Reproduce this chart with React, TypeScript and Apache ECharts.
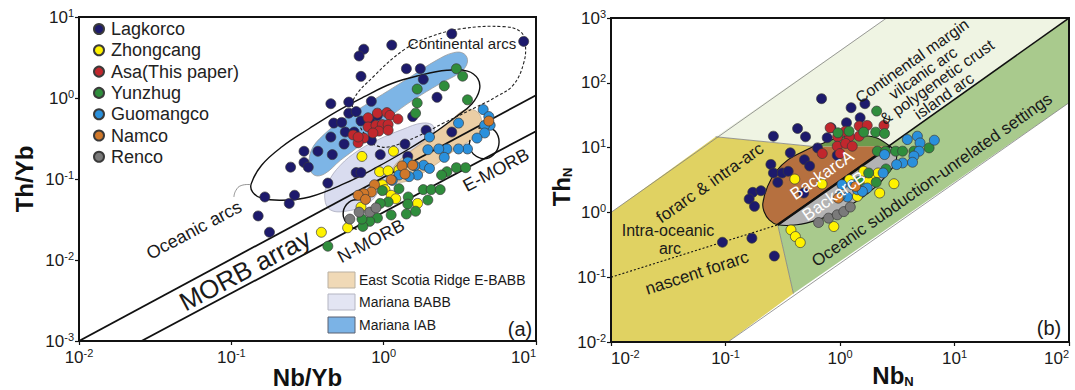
import React, { useEffect, useRef } from "react";
import * as echarts from "echarts";

const FONT = 'Arial, "Liberation Sans", Helvetica, sans-serif';

// ---------------- Panel (a): Nb/Yb vs Th/Yb ----------------
const lagkorcoA = [[2.8,6.2],[8.3,5.0],[1.13,4.5],[0.74,4.0],[0.69,3.3],[0.71,1.85],[1.41,2.3],[1.74,2.3],[1.82,1.7],[2.24,1.02],[0.45,0.85],[0.59,0.89],[0.83,0.91],[1.55,0.59],[0.47,0.49],[0.53,0.5],[0.59,0.65],[0.66,0.68],[0.71,0.52],[0.81,0.52],[0.91,0.61],[0.56,0.38],[0.64,0.38],[0.45,0.33],[0.55,0.27],[0.83,0.3],[1.38,0.27],[1.9,0.4],[2.8,0.38],[0.3,0.22],[0.37,0.22],[0.46,0.2],[0.95,0.2],[1.44,0.19],[0.3,0.16],[0.32,0.14],[0.245,0.14],[0.66,0.12],[0.71,0.12],[0.43,0.089],[0.26,0.063],[0.166,0.06],[0.24,0.05],[0.15,0.035],[0.178,0.022]];
const zhongcangA = [[0.72,0.19],[1.16,0.22],[0.94,0.123],[1.07,0.126],[1.26,0.129],[0.98,0.085],[1.02,0.074],[1.12,0.063],[1.2,0.057],[0.71,0.045],[1.67,0.05],[0.58,0.025],[0.39,0.022]];
const asaA = [[0.79,0.57],[0.91,0.65],[1.05,0.66],[1.1,0.61],[1.24,0.55],[0.79,0.44],[0.89,0.46],[0.98,0.47],[1.07,0.47],[0.93,0.39],[1.07,0.4],[0.63,0.35],[0.74,0.32],[0.85,0.37],[0.68,0.28],[0.68,0.33]];
const yunzhugA = [[3.0,2.3],[3.3,1.86],[2.5,1.41],[1.66,1.29],[3.55,0.95],[1.66,0.87],[1.62,0.65],[3.0,0.138],[3.45,0.138],[2.6,0.123],[2.4,0.112],[1.82,0.074],[2.05,0.074],[2.35,0.074],[1.95,0.055],[1.45,0.06],[1.44,0.049],[1.26,0.076],[1.07,0.052],[0.95,0.05],[1.12,0.036],[1.41,0.037],[1.62,0.04],[0.91,0.033],[0.81,0.03],[0.73,0.026],[0.72,0.032],[0.43,0.0148],[0.98,0.072]];
const guomangcoA = [[4.5,0.72],[4.9,0.59],[5.0,0.46],[4.6,0.46],[3.1,0.49],[4.6,0.37],[4.1,0.32],[3.55,0.235],[3.1,0.235],[2.6,0.235],[2.3,0.235],[2.0,0.33],[1.95,0.23],[2.5,0.185],[1.44,0.162],[1.83,0.148],[1.6,0.145],[2.0,0.135],[1.67,0.112],[1.47,0.107],[1.26,0.112],[1.14,0.096]];
const namcoA = [[4.9,0.52],[1.32,0.145],[1.38,0.115],[1.12,0.098],[0.87,0.085],[0.83,0.069],[0.74,0.066],[0.68,0.063],[0.76,0.056],[1.55,0.148]];
const rencoA = [[0.6,0.032],[0.69,0.039],[0.81,0.039],[0.89,0.044]];

// region outlines, panel (a)
const morbUpper = [[0.01,0.001],[10,1.08]];
const morbLower = [[0.0257,0.001],[10,0.389]];
const oceanicArcs = [[0.135,0.087],[0.158,0.148],[0.215,0.25],[0.325,0.42],[0.49,0.68],[0.74,1.03],[1.12,1.5],[1.72,1.9],[2.6,2.2],[3.55,2.15],[4.15,1.73],[4.25,1.25],[3.8,0.85],[3.0,0.59],[2.1,0.36],[1.38,0.22],[0.91,0.141],[0.55,0.0875],[0.326,0.06],[0.215,0.0546],[0.158,0.058],[0.138,0.069]];
const oceanicLeader = [[0.135,0.085],[0.116,0.083],[0.107,0.072],[0.104,0.06]];
const continentalArcs = [[0.63,0.94],[0.855,1.83],[1.35,3.9],[2.02,5.7],[3.3,7.2],[6.1,7.6],[7.9,6.6],[8.5,4.7],[8.3,2.7],[7.1,1.45],[5.5,1.04],[4.1,0.78],[2.47,0.49],[1.65,0.333],[1.1,0.25],[0.9,0.257],[0.81,0.3],[0.7,0.44],[0.645,0.645]];
const marianaIAB = [[0.335,0.226],[0.4,0.346],[0.55,0.556],[0.75,0.81],[1.08,1.24],[1.55,1.9],[2.22,2.92],[2.88,3.63],[3.37,3.52],[3.55,2.78],[3.2,2.09],[2.34,1.5],[1.55,0.935],[1.13,0.61],[0.87,0.4],[0.675,0.248],[0.52,0.17],[0.41,0.116],[0.352,0.111],[0.326,0.141]];
const marianaBABB = [[0.41,0.06],[0.434,0.092],[0.52,0.148],[0.675,0.222],[0.92,0.306],[1.32,0.407],[1.81,0.491],[2.13,0.447],[2.06,0.33],[1.55,0.226],[1.19,0.141],[0.97,0.08],[0.79,0.0496],[0.577,0.0403],[0.445,0.0418]];
const eastScotiaEBABB = [[1.16,0.141],[1.38,0.195],[2.0,0.33],[2.75,0.525],[3.4,0.71],[4.1,0.68],[4.4,0.5],[4.1,0.35],[3.0,0.235],[2.2,0.151],[1.62,0.106],[1.26,0.091],[1.12,0.112]];
const nMorbArc = [[0.794,0.054],[0.633,0.055],[0.558,0.0455],[0.544,0.0343],[0.586,0.0271],[0.665,0.0239]];
const eMorbArc = [[4.19,0.423],[4.87,0.435],[5.53,0.366],[5.7,0.263],[5.25,0.198],[4.52,0.178],[3.88,0.204],[3.66,0.251],[3.69,0.303]];

// ---------------- Panel (b): Nb_N vs Th_N ----------------
const lagkorcoB = [[0.69,56.9],[1.25,41.3],[1.65,47.6],[1.5,28.9],[1.14,24.2],[0.426,19.7],[0.5,14.7],[0.262,15.0],[0.836,20.2],[0.773,14.2],[0.637,9.9],[0.946,7.6],[0.368,8.3],[0.489,6.5],[0.249,5.5],[0.543,5.2],[0.262,4.06],[0.313,4.06],[0.286,2.91],[0.353,4.31],[0.482,1.99],[0.173,2.04],[0.204,2.16],[0.161,1.61],[0.179,1.24],[0.094,0.346],[0.17,0.4],[0.267,0.212]];
const zhongcangB = [[0.403,3.27],[0.697,2.74],[1.21,3.2],[1.61,4.31],[1.95,3.6],[2.15,4.06],[1.78,3.01],[2.96,2.77],[1.42,1.77],[2.22,1.99],[0.373,0.537],[0.408,0.424],[0.45,0.342],[0.883,0.605]];
const asaB = [[0.82,20.2],[1.47,21.5],[1.73,22.0],[2.42,22.0],[0.953,14.7],[1.21,14.7],[1.47,15.0],[0.946,10.5],[1.12,11.6],[1.28,10.5],[0.7,8.1],[1.0,8.1],[1.11,17.9]];
const yunzhugB = [[2.09,36.6],[0.96,16.9],[1.2,17.9],[1.61,17.3],[2.05,17.3],[2.45,16.5],[2.12,8.8],[2.5,8.8],[3.06,8.8],[3.52,8.8],[4.42,8.8],[6.0,9.9],[1.78,4.06],[2.07,2.91],[2.52,4.68],[1.47,3.01]];
const guomangcoB = [[3.87,13.3],[4.74,15.0],[6.67,13.0],[5.0,11.8],[4.91,8.8],[4.42,7.4],[4.3,5.94],[3.52,5.8],[3.12,5.47],[2.45,7.8],[2.38,4.06],[1.04,2.68],[1.16,1.73],[1.42,2.24],[1.73,2.38],[1.28,2.68],[1.57,2.11],[1.0,1.77]];
const namcoB = [[0.966,1.66],[1.37,2.52]];
const rencoB = [[0.65,0.698],[0.794,0.815],[0.946,0.918],[1.08,1.03],[1.23,1.21]];

// field outlines, panel (b)
const yellowField = [[0.01,1.0],[0.082,14.7],[0.586,10.4],[0.286,0.643],[0.392,0.056],[0.105,0.01],[0.01,0.01]];
const lightField = [[0.082,14.7],[2.55,1000],[100,1000],[2.73,10.5],[0.586,10.4]];
const greenField = [[100,1000],[100,49.3],[0.392,0.056],[0.286,0.643]];
const upperLine = [[0.01,1.0],[2.55,1000]];
const lowerLine = [[0.105,0.01],[100,49.3]];
const middleLine = [[100,1000],[0.286,0.643]];
const ylBoundary = [[0.082,14.7],[0.586,10.4]];
const ygBoundary = [[0.286,0.643],[0.392,0.056]];
const dottedLine = [[0.01,0.1],[0.286,0.643]];
const backarcLeft = [[0.241,0.767],[0.217,1.03]];
const backarcTop = [[0.212,1.39],[0.233,2.52],[0.277,4.31],[0.353,6.53],[0.482,8.8]];
const pD = [0.586,10.4];
const lensTop = [[0.683,11.4],[0.966,14.2],[1.47,15.4],[2.07,14.2]];
const pF = [2.73,10.5];
const backarcBottom = [[3.1,8.3],[3.04,5.8],[2.64,4.06],[2.07,2.52],[1.47,1.57],[0.966,1.03],[0.637,0.767],[0.42,0.643]];
const pG = [0.286,0.643];

const locations = [
  { name: "Lagkorco", color: "#1d1a6c", a: lagkorcoA, b: lagkorcoB },
  { name: "Zhongcang", color: "#fff200", a: zhongcangA, b: zhongcangB },
  { name: "Asa(This paper)", color: "#c1272d", a: asaA, b: asaB },
  { name: "Yunzhug", color: "#2f8d3c", a: yunzhugA, b: yunzhugB },
  { name: "Guomangco", color: "#2a90dc", a: guomangcoA, b: guomangcoB },
  { name: "Namco", color: "#d0782a", a: namcoA, b: namcoB },
  { name: "Renco", color: "#7a7a7a", a: rencoA, b: rencoB },
];

type Shape = { pts: number[][]; closed?: boolean; smooth?: number; fill?: string; stroke?: string; lw?: number; dash?: number[]; opacity?: number };

const shapesA: Shape[] = [
  { pts: marianaBABB, closed: true, smooth: 0.4, fill: "#d9dcef", stroke: "#a9abbd", lw: 0.8 },
  { pts: marianaIAB, closed: true, smooth: 0.4, fill: "#7db5e6", stroke: "#9c9c9c", lw: 0.8 },
  { pts: eastScotiaEBABB, closed: true, smooth: 0.4, fill: "#e6c08c", opacity: 0.78, stroke: "#b4a084", lw: 0.8 },
  { pts: morbUpper, stroke: "#111", lw: 1.8 },
  { pts: morbLower, stroke: "#111", lw: 1.8 },
  { pts: oceanicArcs, closed: true, smooth: 0.4, stroke: "#111", lw: 1.4 },
  { pts: oceanicLeader, smooth: 0.5, stroke: "#777", lw: 0.8 },
  { pts: continentalArcs, closed: true, smooth: 0.4, stroke: "#222", lw: 1.1, dash: [3, 2] },
  { pts: nMorbArc, smooth: 0.4, stroke: "#111", lw: 1.4 },
  { pts: eMorbArc, smooth: 0.4, stroke: "#111", lw: 1.4 },
];

const shapesB: Shape[] = [
  { pts: yellowField, closed: true, fill: "#e0d262" },
  { pts: lightField, closed: true, fill: "#eff4e3" },
  { pts: greenField, closed: true, fill: "#a9ca8d" },
  { pts: upperLine, stroke: "#808080", lw: 0.8 },
  { pts: lowerLine, stroke: "#808080", lw: 0.8 },
  { pts: ylBoundary, stroke: "#808080", lw: 0.8 },
  { pts: ygBoundary, stroke: "#808080", lw: 0.8 },
  { pts: [pG, pG, ...backarcLeft, ...backarcTop, pD, pD, pF, pF], closed: true, smooth: 0.35, fill: "#b6703f" },
  { pts: [pD, pD, ...lensTop, pF, pF], closed: true, smooth: 0.35, fill: "#6e9b4e" },
  { pts: [pG, pG, pF, pF, ...backarcBottom], closed: true, smooth: 0.35, fill: "#b3b3b3" },
  { pts: [...backarcLeft, ...backarcTop, pD, ...lensTop, pF, ...backarcBottom, pG], closed: true, smooth: 0.35, stroke: "#111", lw: 1.1 },
  { pts: middleLine, stroke: "#111", lw: 1.5 },
  { pts: [pG, pF], stroke: "#111", lw: 2.4 },
  { pts: dottedLine, stroke: "#111", lw: 1.1, dash: [2, 2] },
];

function shapeSeries(idx: number, shapes: Shape[]) {
  return {
    type: "custom",
    xAxisIndex: idx,
    yAxisIndex: idx,
    z: 1,
    silent: true,
    clip: true,
    data: [[1, 1]],
    renderItem: (_p: any, api: any) => ({
      type: "group",
      children: shapes.map((s) => ({
        type: s.closed ? "polygon" : "polyline",
        shape: { points: s.pts.map((p) => api.coord(p)), smooth: s.smooth || 0 },
        style: {
          fill: s.fill || "none",
          stroke: s.stroke || "none",
          lineWidth: s.lw || 1,
          lineDash: s.dash || null,
          opacity: s.opacity ?? 1,
        },
      })),
    }),
  };
}

const txt = (t: string, x: number, y: number, size: number, rot = 0, color = "#1a1a1a", align = "center") => ({
  type: "text",
  x,
  y,
  rotation: (rot * Math.PI) / 180,
  z: 50,
  silent: true,
  style: {
    text: t, fill: color, fontSize: size, fontFamily: FONT,
    align, verticalAlign: "middle", textAlign: align, textVerticalAlign: "middle",
  },
});

const supFmt = (v: number) => `10{s|${Math.round(Math.log10(v))}}`;
const axisLabel = (margin: number, extra: any = {}) => ({
  formatter: supFmt, fontSize: 17, lineHeight: 20, color: "#1a1a1a", fontFamily: FONT, margin,
  rich: { s: { fontSize: 11, lineHeight: 11, verticalAlign: "top", color: "#1a1a1a", fontFamily: FONT } },
  ...extra,
});
const axisCommon = {
  type: "log", logBase: 10,
  nameMoveOverlap: false,
  axisLine: { show: true, lineStyle: { color: "#111", width: 2 } },
  axisTick: { show: true, length: 4, inside: false, lineStyle: { color: "#111", width: 1.2 } },
  splitLine: { show: false },
  minorTick: { show: false },
};
const nameStyle = (extra: any = {}) => ({
  fontSize: 24, fontWeight: "bold", color: "#111", fontFamily: FONT, lineHeight: 26,
  rich: { sub: { fontSize: 13, fontWeight: "bold", lineHeight: 13, verticalAlign: "bottom", color: "#111", fontFamily: FONT } },
  ...extra,
});

export default function App() {
  const ref = useRef<HTMLDivElement>(null);
  useEffect(() => {
    if (!ref.current) return;
    const chart = echarts.init(ref.current, undefined, { renderer: "svg" });
    const series: any[] = [shapeSeries(0, shapesA), shapeSeries(1, shapesB)];
    locations.forEach((loc) => {
      [loc.a, loc.b].forEach((d, i) => {
        series.push({
          type: "scatter", name: loc.name, xAxisIndex: i, yAxisIndex: i, z: 3, data: d,
          symbol: "circle", symbolSize: 10,
          itemStyle: { color: loc.color, borderColor: "#3a3a3a", borderWidth: 0.7, opacity: 1 },
          emphasis: { disabled: true },
        });
      });
    });
    const gA = { left: 79, top: 17, width: 457, height: 324 };
    const gB = { left: 611, top: 18, width: 458, height: 324 };
    chart.setOption({
      animation: false,
      backgroundColor: "#ffffff",
      textStyle: { fontFamily: FONT },
      grid: [
        { ...gA, show: false, containLabel: false, outerBoundsMode: "none" },
        { ...gB, show: false, containLabel: false, outerBoundsMode: "none" },
      ],
      xAxis: [
        { ...axisCommon, gridIndex: 0, min: 0.01, max: 10, axisLabel: axisLabel(6, { alignMaxLabel: "right" }),
          name: "Nb/Yb", nameLocation: "middle", nameGap: 23, nameTextStyle: nameStyle() },
        { ...axisCommon, gridIndex: 1, min: 0.01, max: 100, axisLabel: axisLabel(6, { alignMaxLabel: "right", alignMinLabel: "left" }),
          name: "Nb{sub|N}", nameLocation: "middle", nameGap: 20, nameTextStyle: nameStyle({ padding: [0, 0, 0, 106] }) },
      ],
      yAxis: [
        { ...axisCommon, gridIndex: 0, min: 0.001, max: 10, axisLabel: axisLabel(5),
          name: "Th/Yb", nameLocation: "middle", nameGap: 42, nameTextStyle: nameStyle() },
        { ...axisCommon, gridIndex: 1, min: 0.01, max: 1000, axisLabel: axisLabel(5),
          name: "Th{sub|N}", nameLocation: "middle", nameGap: 37, nameTextStyle: nameStyle({ padding: [0, 14, 0, 0] }) },
      ],
      legend: {
        data: locations.map((l) => l.name), orient: "vertical", left: 93, top: 20, padding: 0,
        itemWidth: 14, itemHeight: 10, itemGap: 3.3, icon: "circle", selectedMode: false,
        textStyle: { fontSize: 18, lineHeight: 18, color: "#222", fontFamily: FONT },
      },
      graphic: [
        { type: "rect", z: 60, silent: true, shape: { x: gA.left, y: gA.top, width: gA.width, height: gA.height }, style: { fill: "none", stroke: "#111", lineWidth: 2 } },
        { type: "rect", z: 60, silent: true, shape: { x: gB.left, y: gB.top, width: gB.width, height: gB.height }, style: { fill: "none", stroke: "#111", lineWidth: 2 } },
        txt("MORB array", 245, 270, 26, 28),
        txt("Oceanic arcs", 194, 230, 18, 28),
        txt("N-MORB", 371, 241, 18, 28),
        txt("E-MORB", 496, 170, 18, 28),
        txt("Continental arcs", 462, 43, 15),
        txt("(a)", 520, 329, 20),
        { type: "rect", z: 50, silent: true, shape: { x: 328, y: 272, width: 27, height: 16 }, style: { fill: "#f0d9b6", stroke: "#b9b0a2", lineWidth: 1 } },
        { type: "rect", z: 50, silent: true, shape: { x: 328, y: 294, width: 27, height: 16 }, style: { fill: "#e3e5f3", stroke: "#b4b5c2", lineWidth: 1 } },
        { type: "rect", z: 50, silent: true, shape: { x: 328, y: 317, width: 27, height: 16 }, style: { fill: "#7bb3e6", stroke: "#5a6070", lineWidth: 1 } },
        txt("East Scotia Ridge E-BABB", 359, 280, 14, 0, "#1a1a1a", "left"),
        txt("Mariana BABB", 359, 302, 14, 0, "#1a1a1a", "left"),
        txt("Mariana IAB", 359, 325, 14, 0, "#1a1a1a", "left"),
        txt("Continental margin", 912, 61, 16, 35),
        txt("vilcanic arc", 923, 73, 16, 35),
        txt("& polygenetic crust", 937, 82, 16, 35),
        txt("island arc", 944, 96, 16, 35),
        txt("forarc & intra-arc", 710, 183, 17, 35),
        txt("Intra-oceanic", 668, 230, 16),
        txt("arc", 670, 248, 16),
        txt("nascent forarc", 697, 273, 17, 18),
        txt("BackarcA", 822, 175, 17, 35, "#ffffff"),
        txt("BackarcB", 834, 196, 17, 35, "#ffffff"),
        txt("Oceanic subduction-unrelated settings", 932, 180, 17, 35),
        txt("(b)", 1049, 328, 20),
      ],
      series,
    });
    return () => chart.dispose();
  }, []);
  return <div ref={ref} style={{ position: "fixed", left: 0, top: 0, width: 1075, height: 390 }} />;
}
